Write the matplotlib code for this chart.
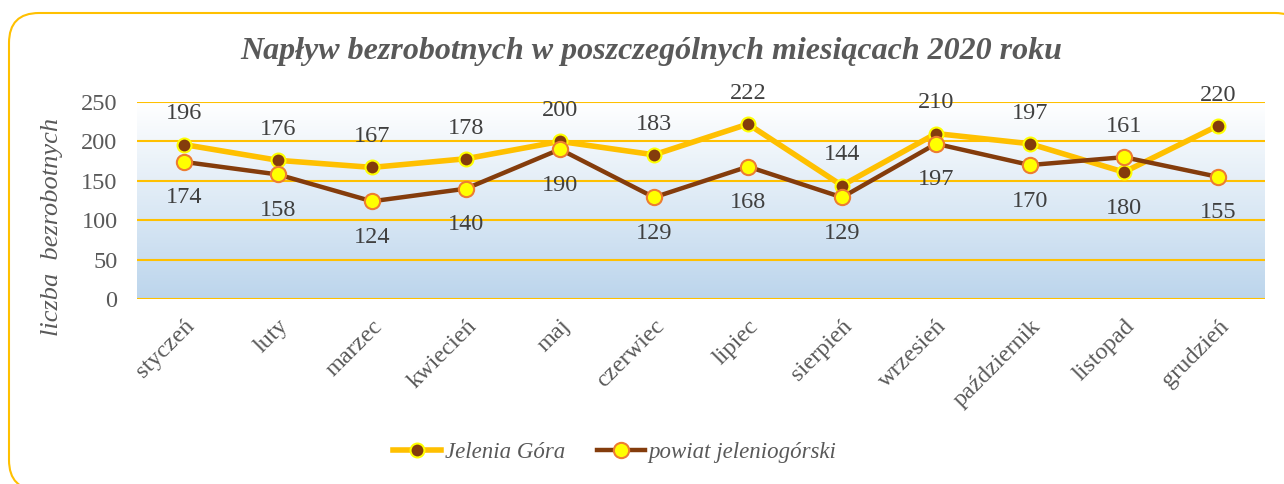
import numpy as np
from matplotlib import pyplot as plt
from matplotlib.patches import FancyBboxPatch
from matplotlib.colors import LinearSegmentedColormap

months = ['styczeń', 'luty', 'marzec', 'kwiecień', 'maj', 'czerwiec',
          'lipiec', 'sierpień', 'wrzesień', 'październik', 'listopad', 'grudzień']
jelenia_gora = [196, 176, 167, 178, 200, 183, 222, 144, 210, 197, 161, 220]
powiat = [174, 158, 124, 140, 190, 129, 168, 129, 197, 170, 180, 155]
y_ticks = [0, 50, 100, 150, 200, 250]

title = 'Napływ bezrobotnych w poszczególnych miesiącach 2020 roku'
y_label = 'liczba  bezrobotnych'

GOLD = '#FFC000'
BROWN = '#843C0C'
YELLOW = '#FFFF00'
ORANGE = '#ED7D31'
GREY = '#595959'
DARK = '#404040'
FS = 17.5

plt.rcParams['font.family'] = ['Liberation Serif', 'DejaVu Serif']

fig = plt.figure(figsize=(12.84, 4.84), dpi=100)
W, H = 1284, 484

# rounded frame (in inches), partly running off the right/bottom edge
frame = FancyBboxPatch((0.09, -0.06), 12.96, 4.77, transform=fig.dpi_scale_trans,
                       boxstyle='round,pad=0,rounding_size=0.3',
                       facecolor='white', edgecolor=GOLD, linewidth=1.5, zorder=-1)
fig.patches.append(frame)

ax = fig.add_axes([137 / W, 1 - 299 / H, 1128 / W, 197 / H])
ax.set_facecolor('none')
x = np.arange(len(months))

# gradient fill of the plot area
cmap = LinearSegmentedColormap.from_list('bg', ['#FFFFFF', '#BCD5EC'])
grad = np.linspace(0, 1, 256).reshape(-1, 1)
ax.imshow(grad, cmap=cmap, aspect='auto', extent=(-0.5, len(months) - 0.5, 0, 250),
          origin='upper', zorder=0)
ax.set_xlim(-0.5, len(months) - 0.5)
ax.set_ylim(0, 250)

for yt in y_ticks:
    ax.axhline(yt, color=GOLD, linewidth=1.5, zorder=1)

for s in ax.spines.values():
    s.set_visible(False)

ax.plot(x, jelenia_gora, color=GOLD, linewidth=4, marker='o', markersize=10,
        markerfacecolor=BROWN, markeredgecolor=YELLOW, markeredgewidth=1.5,
        zorder=3, label='Jelenia Góra')
ax.plot(x, powiat, color=BROWN, linewidth=3.2, marker='o', markersize=11,
        markerfacecolor=YELLOW, markeredgecolor=ORANGE, markeredgewidth=1.5,
        zorder=4, label='powiat jeleniogórski')

for i in range(len(months)):
    hi, lo = max(jelenia_gora[i], powiat[i]), min(jelenia_gora[i], powiat[i])
    ax.annotate(str(jelenia_gora[i]), (x[i], hi), xytext=(0, 22), textcoords='offset points',
                ha='center', va='center', fontsize=FS, color=DARK, zorder=5)
    ax.annotate(str(powiat[i]), (x[i], lo), xytext=(0, -26), textcoords='offset points',
                ha='center', va='center', fontsize=FS, color=DARK, zorder=5)

ax.set_yticks(y_ticks)
ax.set_yticklabels([str(v) for v in y_ticks], fontsize=FS, color=GREY)
ax.set_xticks(x)
ax.set_xticklabels(months, rotation=45, ha='right', rotation_mode='anchor',
                   fontsize=FS, color=GREY)
ax.tick_params(axis='both', length=0)
ax.tick_params(axis='x', pad=12)
ax.tick_params(axis='y', pad=14)

ax.set_ylabel(y_label, fontsize=19, style='italic', color=GREY)
ax.yaxis.set_label_coords(-0.066, 0.365)

fig.text(651 / W, 1 - 52 / H, title, ha='center', va='center', fontsize=23,
         fontweight='bold', style='italic', color=GREY)

leg = fig.legend(loc='center', bbox_to_anchor=(615 / W, 1 - 452 / H), ncol=2,
                 frameon=False, prop={'size': 16.5, 'style': 'italic'},
                 handlelength=2.1, handletextpad=0.15, columnspacing=1.4)
for t in leg.get_texts():
    t.set_color(GREY)

fig.savefig('out.png', dpi=100)
